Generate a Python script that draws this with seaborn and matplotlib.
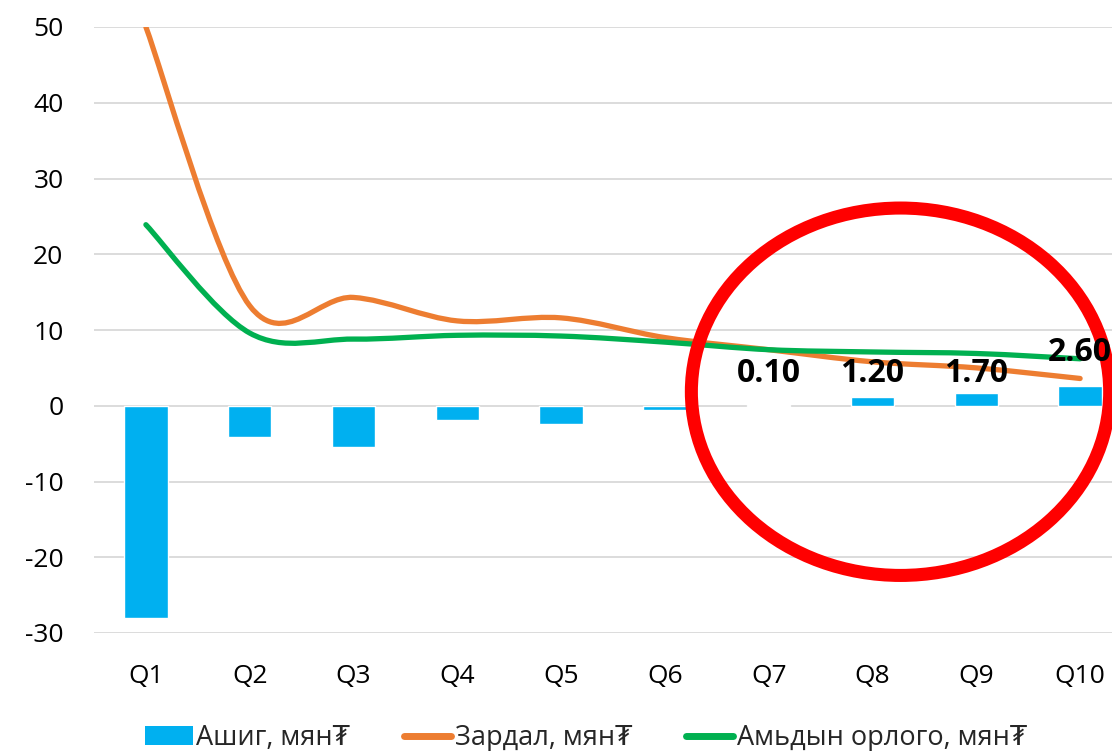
import numpy as np
import pandas as pd
import seaborn as sns
import matplotlib.pyplot as plt
from matplotlib.path import Path
from matplotlib.patches import PathPatch, Patch, Ellipse
from matplotlib.lines import Line2D

quarters = ["Q1", "Q2", "Q3", "Q4", "Q5", "Q6", "Q7", "Q8", "Q9", "Q10"]
ashig = [-28.0, -4.1, -5.4, -1.9, -2.4, -0.5, 0.1, 1.2, 1.7, 2.6]
zardal = [50.0, 13.2, 14.3, 11.2, 11.6, 9.0, 7.4, 5.8, 5.0, 3.6]
orlogo = [23.9, 9.6, 8.8, 9.3, 9.2, 8.4, 7.4, 7.1, 6.9, 6.2]
labelled = ["Q7", "Q8", "Q9", "Q10"]
label_offsets = [23, 17, 14, 24]  # points above bar end

sns.set_theme(style="white")
plt.rcParams["font.family"] = ["Open Sans", "DejaVu Sans"]
plt.rcParams["axes.unicode_minus"] = False

fig = plt.figure(figsize=(11.12, 7.51), dpi=100)
ax = fig.add_axes([94 / 1112, 118 / 751, 1038 / 1112, 606 / 751])

df = pd.DataFrame({"q": quarters, "v": ashig})
sns.barplot(data=df, x="q", y="v", color="#00B0F0", width=0.42,
            saturation=1, ax=ax, zorder=2)


def smooth_path(ys):
    # excel style smoothed line (catmull-rom -> cubic bezier)
    xs = np.arange(len(ys), dtype=float)
    pts = np.column_stack([xs, ys])
    verts = [pts[0]]
    codes = [Path.MOVETO]
    n = len(pts)
    for i in range(n - 1):
        p0 = pts[max(i - 1, 0)]
        p1 = pts[i]
        p2 = pts[i + 1]
        p3 = pts[min(i + 2, n - 1)]
        c1 = p1 + (p2 - p0) / 6
        c2 = p2 - (p3 - p1) / 6
        verts += [c1, c2, p2]
        codes += [Path.CURVE4] * 3
    return Path(verts, codes)


for ys, col in [(zardal, "#ED7D31"), (orlogo, "#00B050")]:
    ax.add_patch(PathPatch(smooth_path(ys), fill=False, edgecolor=col,
                           lw=3.8, capstyle="round", zorder=3))

for q, off in zip(labelled, label_offsets):
    i = quarters.index(q)
    ax.annotate(f"{ashig[i]:.2f}", (i, ashig[i]), xytext=(0, off),
                textcoords="offset points", ha="center", va="center",
                fontsize=23, fontweight="bold", color="black", zorder=5)

ax.add_patch(Ellipse((7.27, 1.85), 4.03, 48.5, fill=False,
                     edgecolor="#FF0000", lw=9.4, zorder=4, clip_on=False))

ax.set_ylim(-30, 50)
ax.set_xlim(-0.5, 9.5)
ax.set_yticks(range(-30, 51, 10))
ax.yaxis.grid(True, color="#D9D9D9", lw=1.3)
ax.set_axisbelow(True)
for s in ax.spines.values():
    s.set_visible(False)
ax.tick_params(axis="y", length=0, pad=22, labelsize=19, labelcolor="black")
ax.tick_params(axis="x", length=0, pad=22, labelsize=19, labelcolor="black")
ax.set_xlabel("")
ax.set_ylabel("")

handles = [
    Patch(facecolor="#00B0F0", edgecolor="none"),
    Line2D([], [], color="#ED7D31", lw=5),
    Line2D([], [], color="#00B050", lw=5),
]
labels = ["Ашиг, мян₮", "Зардал, мян₮", "Амьдын орлого, мян₮"]
fig.legend(handles, labels, loc="center", bbox_to_anchor=(0.527, 0.017),
           ncol=3, frameon=False, fontsize=19.5, handlelength=1.75,
           handletextpad=0.12, columnspacing=2.0, borderaxespad=0,
           borderpad=0)

fig.savefig("out.png", dpi=100)
